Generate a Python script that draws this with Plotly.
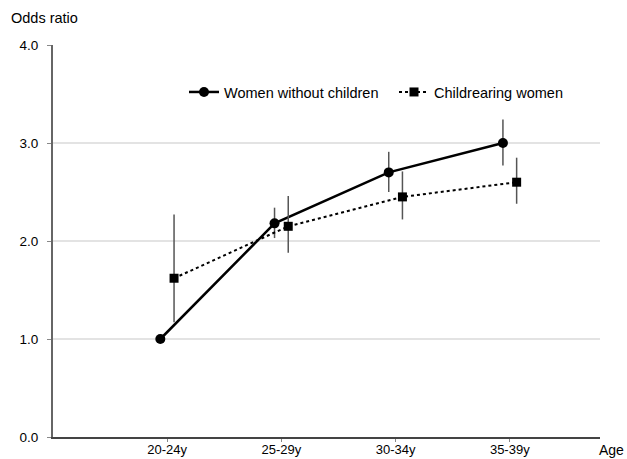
import plotly.graph_objects as go

age_groups = ["20-24y", "25-29y", "30-34y", "35-39y"]

women_no_children = [1.00, 2.18, 2.70, 3.00]
women_no_children_hi = [1.00, 2.34, 2.91, 3.24]
women_no_children_lo = [1.00, 2.03, 2.50, 2.77]

childrearing = [1.62, 2.15, 2.45, 2.60]
childrearing_hi = [2.27, 2.46, 2.71, 2.85]
childrearing_lo = [1.17, 1.88, 2.22, 2.38]

y_ticks = [0, 1, 2, 3, 4]

FONT = "Liberation Sans, Arial, sans-serif"
OFFSET = 0.06

idx = list(range(len(age_groups)))
x_a = [i - OFFSET for i in idx]
x_b = [i + OFFSET for i in idx]

fig = go.Figure()

fig.add_trace(go.Scatter(
    x=x_a, y=women_no_children, mode="lines+markers",
    name="Women without children",
    line=dict(color="black", width=2.5),
    marker=dict(symbol="circle", size=10, color="black"),
    error_y=dict(type="data", symmetric=False,
                 array=[h - v for h, v in zip(women_no_children_hi, women_no_children)],
                 arrayminus=[v - l for v, l in zip(women_no_children, women_no_children_lo)],
                 width=0, thickness=1.5, color="#555555"),
))

fig.add_trace(go.Scatter(
    x=x_b, y=childrearing, mode="lines+markers",
    name="Childrearing women",
    line=dict(color="black", width=2, dash="dot"),
    marker=dict(symbol="square", size=9, color="black"),
    error_y=dict(type="data", symmetric=False,
                 array=[h - v for h, v in zip(childrearing_hi, childrearing)],
                 arrayminus=[v - l for v, l in zip(childrearing, childrearing_lo)],
                 width=0, thickness=1.5, color="#555555"),
))

fig.update_layout(
    width=627, height=459,
    margin=dict(l=53, r=27, t=45, b=22, autoexpand=False),
    paper_bgcolor="white", plot_bgcolor="white",
    font=dict(family=FONT, size=13.5, color="black"),
    showlegend=True,
    legend=dict(orientation="h", x=0.2395, y=0.88, xanchor="left", yanchor="middle",
                font=dict(family=FONT, size=14.5, color="black"),
                bgcolor="rgba(0,0,0,0)", entrywidth=165, entrywidthmode="pixels",
                itemwidth=30),
    xaxis=dict(range=[-1, 3.79], tickvals=idx, ticktext=age_groups,
               showgrid=False, zeroline=False, automargin=False,
               showline=True, linecolor="#444444", linewidth=1.5,
               ticks="outside", ticklen=3, tickcolor="#888888",
               ticklabelstandoff=-3,
               tickfont=dict(family=FONT, size=13, color="black")),
    yaxis=dict(range=[0, 4], tickvals=y_ticks,
               ticktext=[f"{v:.1f}" for v in y_ticks],
               showgrid=True, gridcolor="#e3e3e3", gridwidth=1.5,
               zeroline=False, automargin=False,
               showline=True, linecolor="#666666", linewidth=2,
               ticks="outside", ticklen=4, tickcolor="#888888",
               ticklabelstandoff=6,
               tickfont=dict(family=FONT, size=13.5, color="black")),
    annotations=[
        dict(text="Odds ratio", xref="paper", yref="paper", x=0, y=1,
             xanchor="left", yanchor="bottom", xshift=-44, yshift=17,
             showarrow=False, font=dict(family=FONT, size=14.5, color="black")),
        dict(text="Age", xref="paper", yref="paper", x=1, y=0,
             xanchor="left", yanchor="top", xshift=-3, yshift=-3,
             showarrow=False, font=dict(family=FONT, size=14, color="black")),
    ],
)

fig.write_html(
    "out.html",
    config={"displayModeBar": False},
    post_script="document.body.style.margin='0';document.body.style.overflow='hidden';",
)
